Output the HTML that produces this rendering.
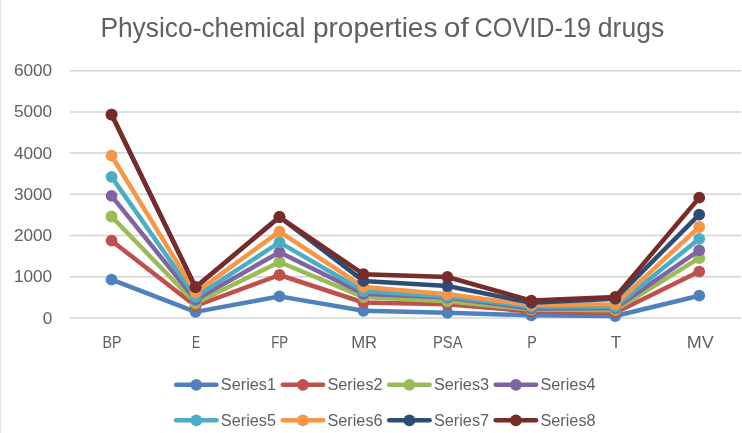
<!DOCTYPE html>
<html><head><meta charset="utf-8"><style>
html,body{margin:0;padding:0;background:#fff;}
body{width:742px;height:433px;overflow:hidden;}
svg{display:block;will-change:transform;filter:blur(0.3px);}
text{font-family:"Liberation Sans",sans-serif;fill:#606060;}
</style></head><body>
<svg width="742" height="433" viewBox="0 0 742 433">
<rect x="0" y="0" width="742" height="433" fill="#fff"/>
<rect x="0" y="0" width="1" height="433" fill="#E3E3E3"/>

<text x="100.40" y="36.6" font-size="27.8" textLength="205.00" lengthAdjust="spacingAndGlyphs" class="tt">Physico-chemical</text>
<text x="313.00" y="36.6" font-size="27.8" textLength="124.40" lengthAdjust="spacingAndGlyphs" class="tt">properties</text>
<text x="443.80" y="36.6" font-size="27.8" textLength="25.00" lengthAdjust="spacingAndGlyphs" class="tt">of</text>
<text x="474.60" y="36.6" font-size="27.8" textLength="116.40" lengthAdjust="spacingAndGlyphs" class="tt">COVID-19</text>
<text x="597.80" y="36.6" font-size="27.8" textLength="66.40" lengthAdjust="spacingAndGlyphs" class="tt">drugs</text>
<line x1="69.6" y1="318.00" x2="741.2" y2="318.00" stroke="#D4D4D4" stroke-width="1.5"/>
<text x="52.2" y="323.50" font-size="17.2" text-anchor="end" class="yl">0</text>
<line x1="69.6" y1="276.78" x2="741.2" y2="276.78" stroke="#D4D4D4" stroke-width="1.5"/>
<text x="52.2" y="282.28" font-size="17.2" text-anchor="end" class="yl">1000</text>
<line x1="69.6" y1="235.56" x2="741.2" y2="235.56" stroke="#D4D4D4" stroke-width="1.5"/>
<text x="52.2" y="241.06" font-size="17.2" text-anchor="end" class="yl">2000</text>
<line x1="69.6" y1="194.34" x2="741.2" y2="194.34" stroke="#D4D4D4" stroke-width="1.5"/>
<text x="52.2" y="199.84" font-size="17.2" text-anchor="end" class="yl">3000</text>
<line x1="69.6" y1="153.12" x2="741.2" y2="153.12" stroke="#D4D4D4" stroke-width="1.5"/>
<text x="52.2" y="158.62" font-size="17.2" text-anchor="end" class="yl">4000</text>
<line x1="69.6" y1="111.90" x2="741.2" y2="111.90" stroke="#D4D4D4" stroke-width="1.5"/>
<text x="52.2" y="117.40" font-size="17.2" text-anchor="end" class="yl">5000</text>
<line x1="69.6" y1="70.68" x2="741.2" y2="70.68" stroke="#D4D4D4" stroke-width="1.5"/>
<text x="52.2" y="76.18" font-size="17.2" text-anchor="end" class="yl">6000</text>
<text x="112.05" y="347.9" font-size="17.2" text-anchor="middle" textLength="19.0" lengthAdjust="spacingAndGlyphs" class="xl">BP</text>
<text x="196.05" y="347.9" font-size="17.2" text-anchor="middle" textLength="8.2" lengthAdjust="spacingAndGlyphs" class="xl">E</text>
<text x="279.75" y="347.9" font-size="17.2" text-anchor="middle" textLength="17.0" lengthAdjust="spacingAndGlyphs" class="xl">FP</text>
<text x="364.15" y="347.9" font-size="17.2" text-anchor="middle" textLength="26.0" lengthAdjust="spacingAndGlyphs" class="xl">MR</text>
<text x="447.75" y="347.9" font-size="17.2" text-anchor="middle" textLength="29.5" lengthAdjust="spacingAndGlyphs" class="xl">PSA</text>
<text x="531.95" y="347.9" font-size="17.2" text-anchor="middle" textLength="9.5" lengthAdjust="spacingAndGlyphs" class="xl">P</text>
<text x="615.90" y="347.9" font-size="17.2" text-anchor="middle" textLength="10.5" lengthAdjust="spacingAndGlyphs" class="xl">T</text>
<text x="700.20" y="347.9" font-size="17.2" text-anchor="middle" textLength="27.0" lengthAdjust="spacingAndGlyphs" class="xl">MV</text>
<polyline points="111.57,279.70 195.53,311.90 279.48,296.40 363.42,310.80 447.38,312.80 531.33,315.30 615.28,316.00 699.23,295.70" fill="none" stroke="#4F81BD" stroke-width="4.5" stroke-linejoin="round" stroke-linecap="round"/>
<circle cx="111.57" cy="279.70" r="5.9" fill="#4F81BD"/>
<circle cx="195.53" cy="311.90" r="5.9" fill="#4F81BD"/>
<circle cx="279.48" cy="296.40" r="5.9" fill="#4F81BD"/>
<circle cx="363.42" cy="310.80" r="5.9" fill="#4F81BD"/>
<circle cx="447.38" cy="312.80" r="5.9" fill="#4F81BD"/>
<circle cx="531.33" cy="315.30" r="5.9" fill="#4F81BD"/>
<circle cx="615.28" cy="316.00" r="5.9" fill="#4F81BD"/>
<circle cx="699.23" cy="295.70" r="5.9" fill="#4F81BD"/>
<polyline points="111.57,240.70 195.53,306.00 279.48,275.00 363.42,302.50 447.38,304.30 531.33,311.40 615.28,312.70 699.23,271.60" fill="none" stroke="#C0504D" stroke-width="4.5" stroke-linejoin="round" stroke-linecap="round"/>
<circle cx="111.57" cy="240.70" r="5.9" fill="#C0504D"/>
<circle cx="195.53" cy="306.00" r="5.9" fill="#C0504D"/>
<circle cx="279.48" cy="275.00" r="5.9" fill="#C0504D"/>
<circle cx="363.42" cy="302.50" r="5.9" fill="#C0504D"/>
<circle cx="447.38" cy="304.30" r="5.9" fill="#C0504D"/>
<circle cx="531.33" cy="311.40" r="5.9" fill="#C0504D"/>
<circle cx="615.28" cy="312.70" r="5.9" fill="#C0504D"/>
<circle cx="699.23" cy="271.60" r="5.9" fill="#C0504D"/>
<polyline points="111.57,216.50 195.53,303.30 279.48,262.00 363.42,297.10 447.38,301.30 531.33,309.60 615.28,310.20 699.23,258.20" fill="none" stroke="#9BBB59" stroke-width="4.5" stroke-linejoin="round" stroke-linecap="round"/>
<circle cx="111.57" cy="216.50" r="5.9" fill="#9BBB59"/>
<circle cx="195.53" cy="303.30" r="5.9" fill="#9BBB59"/>
<circle cx="279.48" cy="262.00" r="5.9" fill="#9BBB59"/>
<circle cx="363.42" cy="297.10" r="5.9" fill="#9BBB59"/>
<circle cx="447.38" cy="301.30" r="5.9" fill="#9BBB59"/>
<circle cx="531.33" cy="309.60" r="5.9" fill="#9BBB59"/>
<circle cx="615.28" cy="310.20" r="5.9" fill="#9BBB59"/>
<circle cx="699.23" cy="258.20" r="5.9" fill="#9BBB59"/>
<polyline points="111.57,195.90 195.53,299.90 279.48,252.20 363.42,293.80 447.38,297.60 531.33,308.40 615.28,308.10 699.23,250.30" fill="none" stroke="#8064A2" stroke-width="4.5" stroke-linejoin="round" stroke-linecap="round"/>
<circle cx="111.57" cy="195.90" r="5.9" fill="#8064A2"/>
<circle cx="195.53" cy="299.90" r="5.9" fill="#8064A2"/>
<circle cx="279.48" cy="252.20" r="5.9" fill="#8064A2"/>
<circle cx="363.42" cy="293.80" r="5.9" fill="#8064A2"/>
<circle cx="447.38" cy="297.60" r="5.9" fill="#8064A2"/>
<circle cx="531.33" cy="308.40" r="5.9" fill="#8064A2"/>
<circle cx="615.28" cy="308.10" r="5.9" fill="#8064A2"/>
<circle cx="699.23" cy="250.30" r="5.9" fill="#8064A2"/>
<polyline points="111.57,176.90 195.53,297.00 279.48,242.40 363.42,291.00 447.38,296.50 531.33,306.70 615.28,306.70 699.23,238.80" fill="none" stroke="#4BACC6" stroke-width="4.5" stroke-linejoin="round" stroke-linecap="round"/>
<circle cx="111.57" cy="176.90" r="5.9" fill="#4BACC6"/>
<circle cx="195.53" cy="297.00" r="5.9" fill="#4BACC6"/>
<circle cx="279.48" cy="242.40" r="5.9" fill="#4BACC6"/>
<circle cx="363.42" cy="291.00" r="5.9" fill="#4BACC6"/>
<circle cx="447.38" cy="296.50" r="5.9" fill="#4BACC6"/>
<circle cx="531.33" cy="306.70" r="5.9" fill="#4BACC6"/>
<circle cx="615.28" cy="306.70" r="5.9" fill="#4BACC6"/>
<circle cx="699.23" cy="238.80" r="5.9" fill="#4BACC6"/>
<polyline points="111.57,155.70 195.53,292.60 279.48,231.60 363.42,286.90 447.38,294.20 531.33,305.00 615.28,304.30 699.23,227.00" fill="none" stroke="#F79646" stroke-width="4.5" stroke-linejoin="round" stroke-linecap="round"/>
<circle cx="111.57" cy="155.70" r="5.9" fill="#F79646"/>
<circle cx="195.53" cy="292.60" r="5.9" fill="#F79646"/>
<circle cx="279.48" cy="231.60" r="5.9" fill="#F79646"/>
<circle cx="363.42" cy="286.90" r="5.9" fill="#F79646"/>
<circle cx="447.38" cy="294.20" r="5.9" fill="#F79646"/>
<circle cx="531.33" cy="305.00" r="5.9" fill="#F79646"/>
<circle cx="615.28" cy="304.30" r="5.9" fill="#F79646"/>
<circle cx="699.23" cy="227.00" r="5.9" fill="#F79646"/>
<polyline points="111.57,114.60 195.53,287.20 279.48,217.00 363.42,280.90 447.38,286.00 531.33,302.80 615.28,298.80 699.23,214.60" fill="none" stroke="#2C4D75" stroke-width="4.5" stroke-linejoin="round" stroke-linecap="round"/>
<circle cx="111.57" cy="114.60" r="5.9" fill="#2C4D75"/>
<circle cx="195.53" cy="287.20" r="5.9" fill="#2C4D75"/>
<circle cx="279.48" cy="217.00" r="5.9" fill="#2C4D75"/>
<circle cx="363.42" cy="280.90" r="5.9" fill="#2C4D75"/>
<circle cx="447.38" cy="286.00" r="5.9" fill="#2C4D75"/>
<circle cx="531.33" cy="302.80" r="5.9" fill="#2C4D75"/>
<circle cx="615.28" cy="298.80" r="5.9" fill="#2C4D75"/>
<circle cx="699.23" cy="214.60" r="5.9" fill="#2C4D75"/>
<polyline points="111.57,114.60 195.53,287.20 279.48,217.00 363.42,274.20 447.38,277.00 531.33,300.60 615.28,297.00 699.23,197.70" fill="none" stroke="#772C2A" stroke-width="4.5" stroke-linejoin="round" stroke-linecap="round"/>
<circle cx="111.57" cy="114.60" r="5.9" fill="#772C2A"/>
<circle cx="195.53" cy="287.20" r="5.9" fill="#772C2A"/>
<circle cx="279.48" cy="217.00" r="5.9" fill="#772C2A"/>
<circle cx="363.42" cy="274.20" r="5.9" fill="#772C2A"/>
<circle cx="447.38" cy="277.00" r="5.9" fill="#772C2A"/>
<circle cx="531.33" cy="300.60" r="5.9" fill="#772C2A"/>
<circle cx="615.28" cy="297.00" r="5.9" fill="#772C2A"/>
<circle cx="699.23" cy="197.70" r="5.9" fill="#772C2A"/>
<line x1="176.1" y1="384.8" x2="216.5" y2="384.8" stroke="#4F81BD" stroke-width="4.5" stroke-linecap="round"/>
<circle cx="196.3" cy="384.8" r="5.9" fill="#4F81BD"/>
<text x="220.8" y="390.0" font-size="16.9" textLength="55.2" lengthAdjust="spacingAndGlyphs" class="lg">Series1</text>
<line x1="282.7" y1="384.8" x2="323.1" y2="384.8" stroke="#C0504D" stroke-width="4.5" stroke-linecap="round"/>
<circle cx="302.9" cy="384.8" r="5.9" fill="#C0504D"/>
<text x="327.4" y="390.0" font-size="16.9" textLength="55.2" lengthAdjust="spacingAndGlyphs" class="lg">Series2</text>
<line x1="389.2" y1="384.8" x2="429.6" y2="384.8" stroke="#9BBB59" stroke-width="4.5" stroke-linecap="round"/>
<circle cx="409.4" cy="384.8" r="5.9" fill="#9BBB59"/>
<text x="433.9" y="390.0" font-size="16.9" textLength="55.2" lengthAdjust="spacingAndGlyphs" class="lg">Series3</text>
<line x1="495.7" y1="384.8" x2="536.1" y2="384.8" stroke="#8064A2" stroke-width="4.5" stroke-linecap="round"/>
<circle cx="515.9" cy="384.8" r="5.9" fill="#8064A2"/>
<text x="540.4" y="390.0" font-size="16.9" textLength="55.2" lengthAdjust="spacingAndGlyphs" class="lg">Series4</text>
<line x1="176.1" y1="420.3" x2="216.5" y2="420.3" stroke="#4BACC6" stroke-width="4.5" stroke-linecap="round"/>
<circle cx="196.3" cy="420.3" r="5.9" fill="#4BACC6"/>
<text x="220.8" y="425.5" font-size="16.9" textLength="55.2" lengthAdjust="spacingAndGlyphs" class="lg">Series5</text>
<line x1="282.7" y1="420.3" x2="323.1" y2="420.3" stroke="#F79646" stroke-width="4.5" stroke-linecap="round"/>
<circle cx="302.9" cy="420.3" r="5.9" fill="#F79646"/>
<text x="327.4" y="425.5" font-size="16.9" textLength="55.2" lengthAdjust="spacingAndGlyphs" class="lg">Series6</text>
<line x1="389.2" y1="420.3" x2="429.6" y2="420.3" stroke="#2C4D75" stroke-width="4.5" stroke-linecap="round"/>
<circle cx="409.4" cy="420.3" r="5.9" fill="#2C4D75"/>
<text x="433.9" y="425.5" font-size="16.9" textLength="55.2" lengthAdjust="spacingAndGlyphs" class="lg">Series7</text>
<line x1="495.7" y1="420.3" x2="536.1" y2="420.3" stroke="#772C2A" stroke-width="4.5" stroke-linecap="round"/>
<circle cx="515.9" cy="420.3" r="5.9" fill="#772C2A"/>
<text x="540.4" y="425.5" font-size="16.9" textLength="55.2" lengthAdjust="spacingAndGlyphs" class="lg">Series8</text>
</svg>
</body></html>
